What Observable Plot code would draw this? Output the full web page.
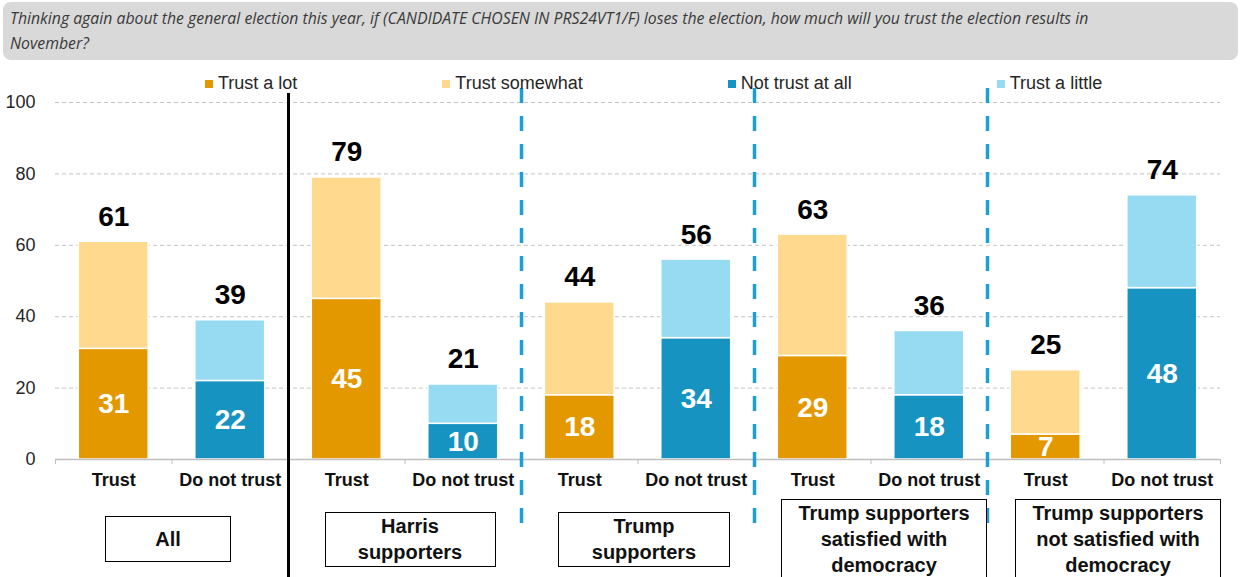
<!DOCTYPE html>
<html><head><meta charset="utf-8">
<script src="https://cdn.jsdelivr.net/npm/d3@7"></script>
<script src="https://cdn.jsdelivr.net/npm/@observablehq/plot@0.6"></script>
<style>
body{margin:0;background:#fff;}
#wrap{position:relative;width:1241px;height:577px;overflow:hidden;font-family:"Liberation Sans",Arial,sans-serif;}
#title{position:absolute;left:3px;top:2px;width:1235px;height:58px;box-sizing:border-box;background:#d9d9d9;border-radius:8px;padding:4px 7px;font-family:"Open Sans",sans-serif;font-style:italic;font-size:15.8px;line-height:25px;color:#3a3a3a;white-space:nowrap;}
#chart{position:absolute;left:0;top:62px;}
#legend{position:absolute;top:73px;left:205px;display:flex;gap:145px;font-size:18px;line-height:21px;color:#262626;}
.li{display:flex;align-items:center;gap:5px}
.sw{width:8px;height:8px}
.gbox{position:absolute;box-sizing:border-box;border:1.5px solid #000;font-weight:bold;font-size:20px;line-height:26px;text-align:center;display:flex;flex-direction:column;align-items:center;justify-content:center;color:#111;background:#fff}
</style></head>
<body>
<div id="wrap">
  <div id="title"></div>
  <div id="chart"></div>
  <div id="legend"></div>
</div>
<script>
const titleLines = ["Thinking again about the general election this year, if (CANDIDATE CHOSEN IN PRS24VT1/F) loses the election, how much will you trust the election results in", "November?"];
const series = ["Trust a lot", "Trust somewhat", "Not trust at all", "Trust a little"];
const colors = ["#E39800", "#FFD98E", "#1793C1", "#96DBF2"];
const groupLines = [["All"], ["Harris", "supporters"], ["Trump", "supporters"], ["Trump supporters", "satisfied with", "democracy"], ["Trump supporters", "not satisfied with", "democracy"]];
const barLabels = ["Trust", "Do not trust", "Trust", "Do not trust", "Trust", "Do not trust", "Trust", "Do not trust", "Trust", "Do not trust"];
const totals = [61, 39, 79, 21, 44, 56, 63, 36, 25, 74];
const inner = [31, 22, 45, 10, 18, 34, 29, 18, 7, 48];
const yTicks = [0, 20, 40, 60, 80, 100];

// layout (styling only)
const boxW = [126, 171, 172, 206, 206];
const boxNudge = [-3.5, 5.5, 6.5, 13.5, 14.5];

// title
document.getElementById("title").innerHTML = titleLines.join("<br>");

// legend
const lg = document.getElementById("legend");
series.forEach((s, k) => {
  const it = document.createElement("div"); it.className = "li";
  const sw = document.createElement("div"); sw.className = "sw"; sw.style.background = colors[k];
  const tx = document.createElement("span"); tx.textContent = s;
  it.appendChild(sw); it.appendChild(tx); lg.appendChild(it);
});

const idx = totals.map((d, i) => i);
const bounds = d3.range(-0.5, totals.length, 1);
const rows = [];
totals.forEach((t, i) => {
  const trust = i % 2 === 0;
  rows.push({i, series: trust ? series[0] : series[2], y1: 0, y2: inner[i]});
  rows.push({i, series: trust ? series[1] : series[3], y1: inner[i], y2: t});
});
const solidSep = [1.5];
const dashSep = [3.5, 5.5, 7.5];

const plot = Plot.plot({
  width: 1241, height: 515,
  marginTop: 40, marginBottom: 118, marginLeft: 55, marginRight: 21,
  x: {domain: [-0.5, 9.5], label: null},
  y: {domain: [0, 100], label: null},
  color: {domain: series, range: colors},
  style: {fontFamily: "'Liberation Sans', Arial, sans-serif", color: "#000", background: "transparent", overflow: "visible"},
  marks: [
    Plot.gridY({ticks: yTicks.slice(1), stroke: "#c4c4c4", strokeOpacity: 1, strokeDasharray: "4,3"}),
    Plot.axisY({ticks: yTicks, tickSize: 0, tickPadding: 20, fontSize: 18, fill: "#262626", label: null}),
    Plot.rectY(rows, {x1: d => d.i - 0.3, x2: d => d.i + 0.3, y1: "y1", y2: "y2", fill: "series", stroke: "white", strokeWidth: 1.5}),
    Plot.ruleY([0], {stroke: "#bfbfbf", strokeWidth: 1.5}),
    Plot.axisX({ticks: bounds, tickSize: 5, tickFormat: () => "", stroke: "#bfbfbf", label: null}),
    Plot.axisX({ticks: idx, tickSize: 0, tickPadding: 14, tickFormat: i => barLabels[i], fontSize: 18, fontWeight: "bold", fill: "#111", label: null}),
    Plot.ruleX(solidSep, {x: d => d, stroke: "#000", strokeWidth: 3, insetTop: -9, insetBottom: -118}),
    Plot.ruleX(dashSep, {x: d => d, stroke: "#1a9fd9", strokeWidth: 3.5, strokeDasharray: "15,13", insetTop: -14, insetBottom: -76}),
    Plot.text(idx, {x: i => i, y: i => totals[i], text: i => String(totals[i]), dy: -25, fontSize: 28, fontWeight: "bold", fill: "#000"}),
    Plot.text(idx, {x: i => i, y: i => inner[i] / 2, text: i => String(inner[i]), fontSize: 28, fontWeight: "bold", fill: "#fff"})
  ]
});
document.getElementById("chart").appendChild(plot);

// group label boxes
const xs = plot.scale("x");
const wrap = document.getElementById("wrap");
groupLines.forEach((lines, g) => {
  const cx = xs.apply(2 * g + 0.5) + boxNudge[g];
  const h = Math.max(46, lines.length * 26 + 3);
  const b = document.createElement("div"); b.className = "gbox";
  b.style.width = boxW[g] + "px";
  b.style.height = h + "px";
  b.style.left = (cx - boxW[g] / 2) + "px";
  b.style.top = (539 - h / 2) + "px";
  lines.forEach(l => { const s = document.createElement("div"); s.textContent = l; b.appendChild(s); });
  wrap.appendChild(b);
});
</script>
</body></html>
